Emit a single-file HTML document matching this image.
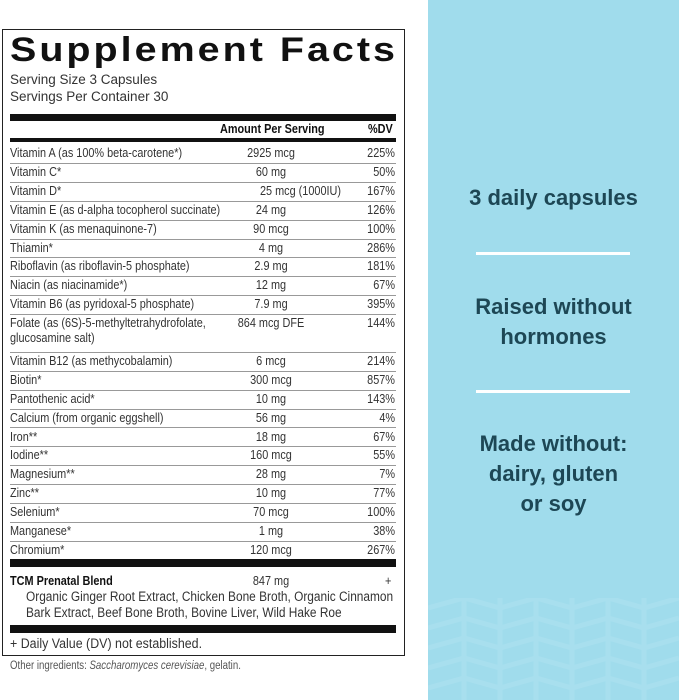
<!DOCTYPE html>
<html><head><meta charset="utf-8"><style>
*{margin:0;padding:0;box-sizing:border-box}
body{width:679px;height:700px;background:#fff;position:relative;overflow:hidden;font-family:"Liberation Sans",sans-serif;color:#333}
.p{position:absolute;white-space:nowrap;font-size:12.5px;line-height:14px;transform-origin:left;transform:scaleX(0.87)}
.box{position:absolute;left:2px;top:29px;width:403px;height:627px;border:1.5px solid #222}
.bar{position:absolute;left:10px;width:386px;background:#111}
.ln{position:absolute;left:10px;width:386px;height:1px;background:#999}
.am{position:absolute;width:120px;left:211px;text-align:center;font-size:12.5px;line-height:14px;transform:scaleX(0.87)}
.dv{position:absolute;right:284px;font-size:12.5px;line-height:14px;transform-origin:right;transform:scaleX(0.87)}
.blue{position:absolute;left:428px;top:0;width:251px;height:700px;background:#a0dcec}
.rt{position:absolute;left:428px;width:251px;text-align:center;font-family:"Liberation Sans",sans-serif;font-weight:bold;font-size:22px;color:#1d4755;line-height:30px}
.wl{position:absolute;left:476px;width:154px;height:3px;background:#fff}
</style></head><body>
<div class="box"></div>
<div class="p" style="left:10px;top:31px;font-weight:900;font-size:34px;line-height:38px;letter-spacing:2.6px;color:#111;transform:scaleX(1.16)">Supplement Facts</div>
<div class="p" style="left:10px;top:73px;font-size:13.5px;transform:none">Serving Size 3 Capsules</div>
<div class="p" style="left:10px;top:90px;font-size:13.5px;transform:none">Servings Per Container 30</div>
<div class="bar" style="top:114px;height:7px"></div>
<div class="p" style="left:220px;top:122px;font-weight:bold;color:#111">Amount Per Serving</div>
<div class="p" style="left:368px;top:122px;font-weight:bold;color:#111">%DV</div>
<div class="bar" style="top:138px;height:4px"></div>
<div id="rows"></div>
<script>
var r=[["Vitamin A (as 100% beta-carotene*)","2925 mcg","225%"],["Vitamin C*","60 mg","50%"],["Vitamin D*","25 mcg (1000IU)","167%"],["Vitamin E (as d-alpha tocopherol succinate)","24 mg","126%"],["Vitamin K (as menaquinone-7)","90 mcg","100%"],["Thiamin*","4 mg","286%"],["Riboflavin (as riboflavin-5 phosphate)","2.9 mg","181%"],["Niacin (as niacinamide*)","12 mg","67%"],["Vitamin B6 (as pyridoxal-5 phosphate)","7.9 mg","395%"],["Folate (as (6S)-5-methyltetrahydrofolate,<br>glucosamine salt)","864 mcg DFE","144%"],["Vitamin B12 (as methycobalamin)","6 mcg","214%"],["Biotin*","300 mcg","857%"],["Pantothenic acid*","10 mg","143%"],["Calcium (from organic eggshell)","56 mg","4%"],["Iron**","18 mg","67%"],["Iodine**","160 mcg","55%"],["Magnesium**","28 mg","7%"],["Zinc**","10 mg","77%"],["Selenium*","70 mcg","100%"],["Manganese*","1 mg","38%"],["Chromium*","120 mcg","267%"]];
var y=144,h='';
r.forEach(function(e,i){var two=e[0].indexOf('<br>')>0;
var a=e[1]=="25 mcg (1000IU)"?'<div class="p" style="left:260px;top:'+(y+2)+'px">'+e[1]+'</div>':'<div class="am" style="top:'+(y+2)+'px">'+e[1]+'</div>';
h+='<div class="p" style="left:10px;top:'+(y+2)+'px;line-height:15px">'+e[0]+'</div>'+a+'<div class="dv" style="top:'+(y+2)+'px">'+e[2]+'</div>';
y+=two?37.8:18.9;
if(i<r.length-1)h+='<div class="ln" style="top:'+Math.round(y)+'px"></div>';});
document.getElementById('rows').innerHTML=h;
</script>
<div class="bar" style="top:559px;height:8px"></div>
<div class="p" style="left:10px;top:574px;font-weight:bold;color:#111">TCM Prenatal Blend</div>
<div class="am" style="top:574px">847 mg</div>
<div class="dv" style="top:574px;right:288px">+</div>
<div class="p" style="left:26px;top:590px;font-size:13.5px;transform:scaleX(0.88)">Organic Ginger Root Extract, Chicken Bone Broth, Organic Cinnamon</div>
<div class="p" style="left:26px;top:606px;font-size:13.5px;transform:scaleX(0.88)">Bark Extract, Beef Bone Broth, Bovine Liver, Wild Hake Roe</div>
<div class="bar" style="top:625px;height:8px"></div>
<div class="p" style="left:10px;top:637px;font-size:13.5px;transform:scaleX(0.92)">+ Daily Value (DV) not established.</div>
<div class="p" style="left:10px;top:659px;font-size:11.5px;color:#555;transform:scaleX(0.84)">Other ingredients: <i>Saccharomyces cerevisiae</i>, gelatin.</div>
<div class="blue"></div>
<svg style="position:absolute;left:428px;top:598px" width="251" height="102"><g stroke="#a8dfee" stroke-width="5" fill="none">
<path d="M0 10 L36 0 L72 10 L108 0 L144 10 L180 0 L216 10 L251 0"/><path d="M0 30 L36 20 L72 30 L108 20 L144 30 L180 20 L216 30 L251 20"/><path d="M0 50 L36 40 L72 50 L108 40 L144 50 L180 40 L216 50 L251 40"/><path d="M0 70 L36 60 L72 70 L108 60 L144 70 L180 60 L216 70 L251 60"/><path d="M0 90 L36 80 L72 90 L108 80 L144 90 L180 80 L216 90 L251 80"/>
<path d="M36 0V102M72 0V102M108 0V102M144 0V102M180 0V102M216 0V102"/></g></svg>
<div class="rt" style="top:183px">3 daily capsules</div>
<div class="wl" style="top:252px"></div>
<div class="rt" style="top:292px">Raised without<br>hormones</div>
<div class="wl" style="top:390px"></div>
<div class="rt" style="top:429px">Made without:<br>dairy, gluten<br>or soy</div>
</body></html>
